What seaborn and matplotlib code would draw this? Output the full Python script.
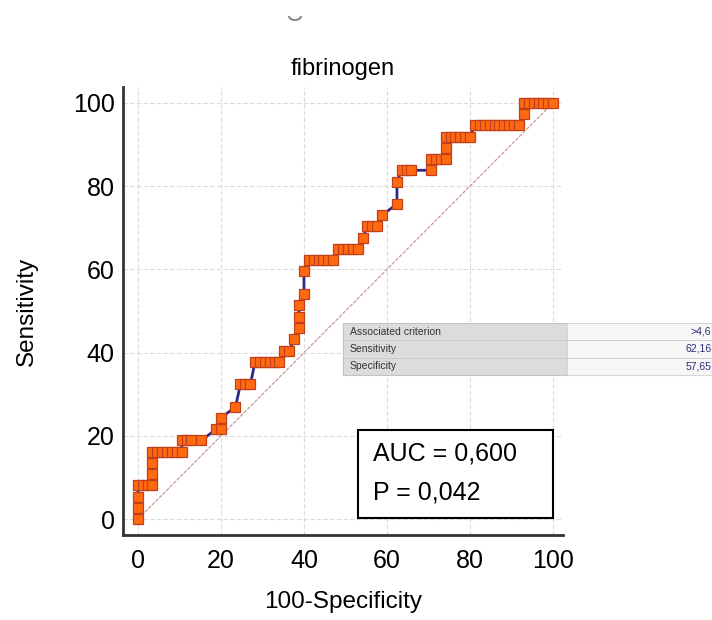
import matplotlib
matplotlib.use("Agg")
import matplotlib.pyplot as plt
from matplotlib.patches import Rectangle, Arc
import numpy as np
import pandas as pd
import seaborn as sns

sns.set_style("white")
plt.rcParams['font.family'] = ['Liberation Sans', 'DejaVu Sans']
plt.rcParams['text.color'] = 'black'
plt.rcParams['axes.labelcolor'] = 'black'
plt.rcParams['xtick.labelcolor'] = 'black'
plt.rcParams['ytick.labelcolor'] = 'black'

# ROC points (100-Specificity, Sensitivity)
fpr = [0, 0, 0, 0,
       1.2, 2.4, 3.5,
       3.5, 3.5, 3.5,
       4.7, 5.9, 7.1, 8.2, 9.4, 10.6,
       10.6, 11.8, 12.9, 15.3,
       18.8, 20.0,
       20.0,
       23.5,
       24.7, 25.9, 27.1,
       28.2, 29.4, 30.6, 31.8, 32.9, 34.1,
       35.3, 36.5,
       37.6,
       38.8, 38.8, 38.8,
       40.0, 40.0,
       41.2, 42.4, 43.5, 44.7, 45.9, 47.1,
       48.2, 49.4, 50.6, 51.8, 52.9,
       54.1,
       55.3, 56.5, 57.6,
       58.8,
       62.4, 62.4,
       63.5, 64.7, 65.9, 70.6,
       70.6, 71.8, 72.9, 74.1,
       74.1,
       74.1, 75.3, 76.5, 77.6, 78.8, 80.0,
       81.2, 82.4, 83.5, 84.7, 85.9, 87.1, 88.2, 89.4, 90.6, 91.8,
       92.9,
       92.9, 94.1, 95.3, 96.5, 97.6, 98.8, 100]
tpr = [0, 2.7, 5.4, 8.1,
       8.1, 8.1, 8.1,
       10.8, 13.5, 16.2,
       16.2, 16.2, 16.2, 16.2, 16.2, 16.2,
       18.9, 18.9, 18.9, 18.9,
       21.6, 21.6,
       24.3,
       27.0,
       32.4, 32.4, 32.4,
       37.8, 37.8, 37.8, 37.8, 37.8, 37.8,
       40.5, 40.5,
       43.2,
       45.9, 48.6, 51.4,
       54.1, 59.5,
       62.2, 62.2, 62.2, 62.2, 62.2, 62.2,
       64.9, 64.9, 64.9, 64.9, 64.9,
       67.6,
       70.3, 70.3, 70.3,
       73.0,
       75.7, 81.1,
       83.8, 83.8, 83.8, 83.8,
       86.5, 86.5, 86.5, 86.5,
       89.2,
       91.9, 91.9, 91.9, 91.9, 91.9, 91.9,
       94.6, 94.6, 94.6, 94.6, 94.6, 94.6, 94.6, 94.6, 94.6, 94.6,
       97.3,
       100, 100, 100, 100, 100, 100, 100]
diag = [0, 100]
ticks = [0, 20, 40, 60, 80, 100]

title = "fibrinogen"
auc_text = "AUC = 0,600"
p_text = "P = 0,042"
table_labels = ["Associated criterion", "Sensitivity", "Specificity"]
table_values = [">4,6", "62,16", "57,65"]

df = pd.DataFrame({"fpr": fpr, "tpr": tpr})

fig = plt.figure(figsize=(7.12, 6.2), dpi=100)
ax = fig.add_axes([123/712, 1 - 535/620, 440/712, 448/620])

ax.plot(diag, diag, color="#c99a9a", lw=0.9, ls=(0, (3, 1)), zorder=1)
sns.lineplot(data=df, x="fpr", y="tpr", sort=False, estimator=None,
             color="#2a2a8c", lw=2, marker="s", markersize=7.8,
             markerfacecolor="#ff6a10", markeredgecolor="#c0401c",
             markeredgewidth=0.9, ax=ax, zorder=3)

ax.set_xlim(-3.6, 102.4)
ax.set_ylim(-3.8, 103.8)
ax.set_xticks(ticks)
ax.set_yticks(ticks)
ax.set_xticks(np.arange(0, 101, 5), minor=True)
ax.set_yticks(np.arange(0, 101, 5), minor=True)
ax.tick_params(which="major", direction="in", length=11, width=1.5,
               color="#333333", labelsize=18)
ax.tick_params(axis="x", which="major", pad=10)
ax.tick_params(axis="y", which="major", pad=6)
ax.tick_params(which="minor", direction="in", length=5.5, width=1.2,
               color="#333333")
ax.grid(True, which="major", color="#dcdcdc", ls=(0, (4, 2)), lw=0.8)
ax.set_axisbelow(True)

sns.despine(ax=ax)
for s in ["left", "bottom"]:
    ax.spines[s].set_linewidth(2)
    ax.spines[s].set_color("#333333")

ax.set_title(title, fontsize=17, pad=9)
ax.set_xlabel("100-Specificity", fontsize=17.5, labelpad=13)
ax.set_ylabel("Sensitivity", fontsize=17.5, labelpad=25)

# AUC box
ax.add_patch(Rectangle((0.534, 0.038), 0.443, 0.196, transform=ax.transAxes,
                       facecolor="white", edgecolor="black", lw=1.5, zorder=4))
ax.text(0.568, 0.183, auc_text, transform=ax.transAxes, fontsize=18,
        va="center", ha="left", zorder=5)
ax.text(0.568, 0.094, p_text, transform=ax.transAxes, fontsize=18,
        va="center", ha="left", zorder=5)

# pasted criterion table (runs off the right edge)
x0, xg, x1 = 343/712, 567/712, 1.0
row_h = 17.3/620
top = 1 - 323/620
fig.patches.append(Rectangle((x0, top - 3*row_h), xg - x0, 3*row_h,
                             transform=fig.transFigure, facecolor="#dcdcdc",
                             edgecolor="#c4c4c4", lw=0.8, zorder=6))
fig.patches.append(Rectangle((xg, top - 3*row_h), x1 - xg, 3*row_h,
                             transform=fig.transFigure, facecolor="#f7f7f7",
                             edgecolor="#d6d6d6", lw=0.8, zorder=6))
for i, (lab, val) in enumerate(zip(table_labels, table_values)):
    yc = top - (i + 0.5)*row_h
    if i > 0:
        fig.lines.append(plt.Line2D([x0, x1], [top - i*row_h]*2,
                                    transform=fig.transFigure,
                                    color="#c8c8c8", lw=0.6, zorder=7))
    fig.text(350/712, yc, lab, fontsize=7.5, color="#333333",
             va="center", ha="left", zorder=8)
    fig.text(0.999, yc, val, fontsize=7.5, color="#2e2e78",
             va="center", ha="right", zorder=8)

# small mark at top
fig.patches.append(Arc((295/712, 1 - 16/620), 12/712, 8/620, theta1=180,
                       theta2=360, transform=fig.transFigure,
                       color="#888888", lw=1.5))

fig.savefig("out.png", dpi=100)
